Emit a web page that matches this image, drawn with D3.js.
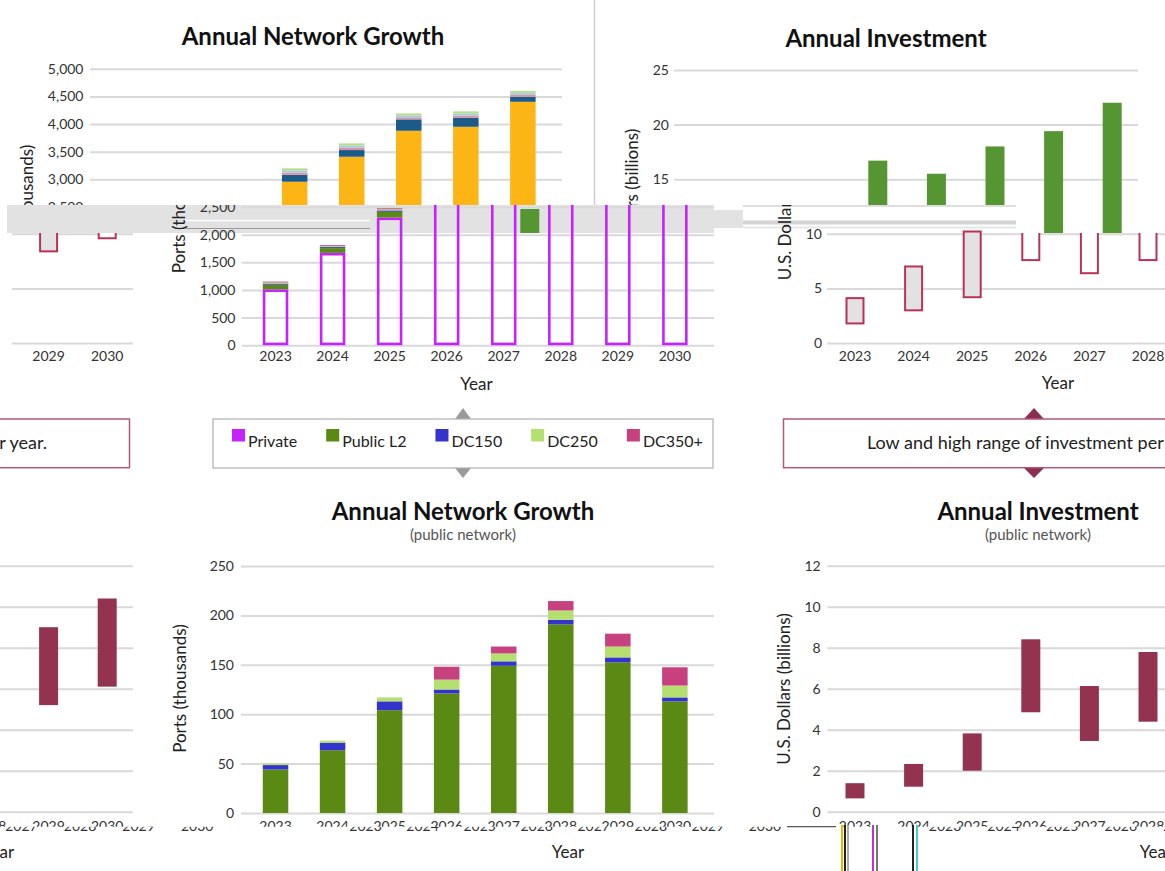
<!DOCTYPE html>
<html><head><meta charset="utf-8">
<script src="https://cdn.jsdelivr.net/npm/d3@7"></script>
<style>
body{margin:0;background:#fff;}
svg{display:block;font-family:Lato,'Open Sans',sans-serif;}
</style></head><body>
<svg id="c" width="1165" height="871"></svg>
<script>
// ---------------- DATA ----------------
const years = [2023, 2024, 2025, 2026, 2027, 2028, 2029, 2030];
// Total network growth (ports, thousands)
const totPrivate  = [1010, 1670, 2310, 2957, 3409, 3879, 3951, 4403];
const totPublicL2 = [85, 85, 105, 126, 121, 206, 163, 91];
const totDC150    = [20, 20, 22, 40, 40, 36, 38, 36];
const totDC250    = [20, 20, 22, 38, 40, 36, 38, 36];
const totDC350    = [15, 15, 16, 38, 41, 36, 40, 36];
// Total annual investment range (US$ billions)
const invLow  = [1.7, 2.9, 4.1, 7.5, 6.3, 7.5, 8.3, 9.5];
const invHigh = [4.2, 7.1, 10.3, 16.7, 15.5, 18.0, 19.4, 22.0];
// Public network growth (ports, thousands)
const pubL2    = [44, 63.5, 104, 121, 149, 191, 152.5, 113];
const pubDC150 = [4.5, 7.7, 9, 4, 4.5, 4.5, 5, 4];
const pubDC250 = [1.5, 2, 4, 10, 8, 9.5, 11, 12];
const pubDC350 = [0, 0, 0, 13, 7, 9.5, 13, 18.5];
// Public annual investment range (US$ billions)
const pubInvLow  = [0.65, 1.22, 2.0, 4.85, 3.45, 4.39, 5.2, 6.1];
const pubInvHigh = [1.39, 2.33, 3.82, 8.41, 6.13, 7.79, 9.0, 10.4];
// Tick labels
const netTicks    = [0, 500, 1000, 1500, 2000, 2500, 3000, 3500, 4000, 4500, 5000];
const invTicks    = [0, 5, 10, 15, 20, 25];
const pubNetTicks = [0, 50, 100, 150, 200, 250];
const pubInvTicks = [0, 2, 4, 6, 8, 10, 12];
const legendLabels = ["Private", "Public L2", "DC150", "DC250", "DC350+"];
const annotationText = "Low and high range of investment per year.";

// ---------------- STYLES ----------------
const FONT = "Lato,'Open Sans',sans-serif";
const netKeys = ["private", "publicL2", "dc150", "dc250", "dc350"];
const paletteA = ["#c622ff", "#5b8a14", "#3434cc", "#b4e070", "#c8417f"];
const paletteB = ["#fdb515", "#1b5b8a", "#e0909e", "#a3cde2", "#b6dd8c"];
const hollowFill = ["#e2e2e2", "#e2e2e2", "#e2e2e2", "#fff", "#fff", "#fff", "#e2e2e2", "#fff"];

// ---------------- SCALES ----------------
const netX = d3.scaleBand().domain(years).range([247, 703.4]).paddingInner(0.553).paddingOuter(0.2765);
const invX = d3.scaleBand().domain(years).range([825.7, 1294.5]).paddingInner(0.676).paddingOuter(0.338);
const netY = d3.scaleLinear().domain([0, 5000]).range([345.2, 68.8]);
const invY = d3.scaleLinear().domain([0, 25]).range([343, 70]);
const pubNetY = d3.scaleLinear().domain([0, 250]).range([813, 566]);
const pubInvY = d3.scaleLinear().domain([0, 12]).range([811.7, 565.7]);

const svg = d3.select("#c");
const defs = svg.append("defs");
function clip(id, d) { defs.append("clipPath").attr("id", id).attr("clipPathUnits", "userSpaceOnUse").append("path").attr("d", d); }
clip("cTop", "M0,0H1165V233H1016V205H0Z");
clip("cLow", "M0,205H1016V233H1165V480H0Z");
clip("cLowWrap", "M12,233H1165V480H12Z");
clip("cBandG", "M515,209H545V233H515Z");
clip("cLabA", "M0,480H1165V826.7H0Z");
clip("cLabB", "M0,826.7H1165V871H0Z");

// ---------------- HELPERS ----------------
function text(g, x, y, str, o = {}) {
  return g.append("text").attr("x", x).attr("y", y).text(str)
    .attr("font-family", FONT)
    .attr("font-size", o.size || 14).attr("font-weight", o.weight || "normal")
    .attr("fill", o.fill || "#222").attr("text-anchor", o.anchor || "middle")
    .attr("dominant-baseline", "central");
}
function rotText(g, x, y, str, size) {
  return g.append("text").attr("transform", `translate(${x},${y}) rotate(-90)`)
    .attr("font-family", FONT).attr("font-size", size).attr("fill", "#222")
    .attr("text-anchor", "middle").attr("dominant-baseline", "central").text(str);
}
function yGrid(g, y, ticks, gx0, gx1, pad) {
  const ax = d3.axisLeft(y).tickValues(ticks).tickSize(-(gx1 - gx0)).tickPadding(pad).tickFormat(d3.format(","));
  const a = g.append("g").attr("transform", `translate(${gx0},0)`).call(ax);
  a.select(".domain").remove();
  a.selectAll("line").attr("stroke", "#d9d9d9").attr("stroke-width", 2);
  a.selectAll("text").attr("font-size", 14).attr("fill", "#333").attr("font-family", FONT);
}
function xLabels(g, x, yTop) {
  const ax = d3.axisBottom(x).tickSize(0).tickPadding(0);
  const a = g.append("g").attr("transform", `translate(0,${yTop})`).call(ax);
  a.select(".domain").remove();
  a.selectAll("text").attr("font-size", 14).attr("fill", "#333").attr("font-family", FONT);
}
function stackBars(g, rows, x, y, colors, hollowFirst) {
  const layers = d3.stack().keys(netKeys)(rows);
  layers.forEach((layer, li) => {
    const hollow = hollowFirst && li === 0;
    const sw = hollow ? 2.6 : 0;
    g.append("g").selectAll("rect").data(layer).join("rect")
      .attr("x", d => x(d.data.year) + sw / 2)
      .attr("width", x.bandwidth() - sw)
      .attr("y", d => y(d[1]) + sw / 2)
      .attr("height", d => Math.max(0, y(d[0]) - y(d[1]) - sw))
      .attr("fill", hollow ? "none" : colors[li])
      .attr("stroke", hollow ? colors[li] : "none")
      .attr("stroke-width", sw);
  });
}

// ---------------- CHARTS ----------------
function drawNetTotal(g, colors, hollowFirst) {
  text(g, 465, 35, "Annual Network Growth", {size: 24, weight: "bold", fill: "#111"});
  yGrid(g, netY, netTicks, 242, 714, 6.5);
  xLabels(g, netX, 351);
  rotText(g, 178, 209, "Ports (thousands)", 17);
  text(g, 476.5, 383, "Year", {size: 17});
  const rows = years.map((yr, i) => ({year: yr, private: totPrivate[i], publicL2: totPublicL2[i],
    dc150: totDC150[i], dc250: totDC250[i], dc350: totDC350[i]}));
  stackBars(g, rows, netX, netY, colors, hollowFirst);
}
function drawInvTotal(g, filled) {
  text(g, 1039, 37, "Annual Investment", {size: 24, weight: "bold", fill: "#111"});
  yGrid(g, invY, invTicks, 827, 1291, 5);
  xLabels(g, invX, 351);
  rotText(g, 784, 204.5, "U.S. Dollars (billions)", 17);
  text(g, 1058, 382, "Year", {size: 17});
  const rows = years.map((yr, i) => ({year: yr, low: invLow[i], high: invHigh[i], i}));
  const sw = filled ? 0 : 2;
  g.append("g").selectAll("rect").data(rows).join("rect")
    .attr("x", d => invX(d.year) + sw / 2).attr("width", invX.bandwidth() - sw)
    .attr("y", d => invY(d.high) + sw / 2)
    .attr("height", d => invY(d.low) - invY(d.high) - sw)
    .attr("fill", d => filled ? "#559632" : hollowFill[d.i])
    .attr("stroke", filled ? "none" : "#b83358").attr("stroke-width", sw);
}
function drawPubNet(g) {
  text(g, 463, 510.7, "Annual Network Growth", {size: 24, weight: "bold", fill: "#111"});
  text(g, 463, 534, "(public network)", {size: 15, fill: "#555"});
  yGrid(g, pubNetY, pubNetTicks, 241, 714, 7);
  rotText(g, 179, 688.5, "Ports (thousands)", 17);
  text(g, 568, 851.7, "Year", {size: 17});
  const rows = years.map((yr, i) => ({year: yr, private: 0, publicL2: pubL2[i],
    dc150: pubDC150[i], dc250: pubDC250[i], dc350: pubDC350[i]}));
  stackBars(g, rows, netX, pubNetY, paletteA, false);
}
function drawPubInv(g) {
  text(g, 1038, 510.7, "Annual Investment", {size: 24, weight: "bold", fill: "#111"});
  text(g, 1038, 534, "(public network)", {size: 15, fill: "#555"});
  yGrid(g, pubInvY, pubInvTicks, 827.4, 1291, 6.7);
  rotText(g, 783.5, 689, "U.S. Dollars (billions)", 17);
  text(g, 1156, 851.7, "Year", {size: 17});
  const rows = years.map((yr, i) => ({year: yr, low: pubInvLow[i], high: pubInvHigh[i]}));
  g.append("g").selectAll("rect").data(rows).join("rect")
    .attr("x", d => invX(d.year)).attr("width", invX.bandwidth())
    .attr("y", d => pubInvY(d.high)).attr("height", d => pubInvY(d.low) - pubInvY(d.high))
    .attr("fill", "#943350");
}

// ---------------- TOP ROW (shifted upper slice) ----------------
const gTop = svg.append("g").attr("clip-path", "url(#cTop)");
drawNetTotal(gTop.append("g").attr("transform", "translate(-152,0)"), paletteB, false);
drawInvTotal(gTop.append("g").attr("transform", "translate(-153,0)"), true);
gTop.append("line").attr("x1", 594.5).attr("x2", 594.5).attr("y1", 0).attr("y2", 205)
  .attr("stroke", "#cfcfcf").attr("stroke-width", 1.5);

// glitch band
const band = svg.append("g");
band.append("rect").attr("x", 7).attr("y", 205).attr("width", 707).attr("height", 28).attr("fill", "#e2e2e2");
band.append("rect").attr("x", 714).attr("y", 210).attr("width", 29).attr("height", 18).attr("fill", "#e2e2e2");
band.append("line").attr("x1", 185).attr("x2", 370).attr("y1", 220.5).attr("y2", 220.5).attr("stroke", "#fff").attr("stroke-width", 1.5);
band.append("line").attr("x1", 185).attr("x2", 370).attr("y1", 228.5).attr("y2", 228.5).attr("stroke", "#9a9a9a").attr("stroke-width", 1.2);
band.append("line").attr("x1", 743).attr("x2", 1016).attr("y1", 206).attr("y2", 206).attr("stroke", "#dedede").attr("stroke-width", 2);
band.append("line").attr("x1", 743).attr("x2", 1016).attr("y1", 222.5).attr("y2", 222.5).attr("stroke", "#d4d4d4").attr("stroke-width", 4);
band.append("line").attr("x1", 743).attr("x2", 1016).attr("y1", 227.5).attr("y2", 227.5).attr("stroke", "#e6e6e6").attr("stroke-width", 2);
const gBandG = svg.append("g").attr("clip-path", "url(#cBandG)");
drawInvTotal(gBandG.append("g").attr("transform", "translate(-501,0)"), true);

// ---------------- TOP ROW (lower slice) ----------------
const gLow = svg.append("g").attr("clip-path", "url(#cLow)");
drawNetTotal(gLow.append("g"), paletteA, true);
drawInvTotal(gLow.append("g"), false);
const gLowWrap = svg.append("g").attr("clip-path", "url(#cLowWrap)");
drawInvTotal(gLowWrap.append("g").attr("transform", "translate(-1158,0)"), false);

// ---------------- MIDDLE ROW ----------------
// Legend
const leg = svg.append("g");
leg.append("path").attr("d", "M455,419L463,408L471,419Z").attr("fill", "#9a9a9a");
leg.append("path").attr("d", "M455,468L463,478L471,468Z").attr("fill", "#9a9a9a");
leg.append("rect").attr("x", 213).attr("y", 419).attr("width", 500).attr("height", 49)
  .attr("fill", "#fff").attr("stroke", "#b0b0b0").attr("stroke-width", 1.2);
let lx = 232;
legendLabels.forEach((lab, i) => {
  leg.append("rect").attr("x", lx).attr("y", 429).attr("width", 13).attr("height", 12.5).attr("fill", paletteA[i]);
  const t = text(leg, lx + 16, 440, lab, {size: 16, anchor: "start", fill: "#222"});
  lx = lx + 16 + t.node().getComputedTextLength() + 29;
});
// Annotation box (and its wrapped copy)
function drawAnnotation(g) {
  g.append("path").attr("d", "M1024,419L1034,408L1044,419Z").attr("fill", "#8c2d52");
  g.append("path").attr("d", "M1024,468L1034,478L1044,468Z").attr("fill", "#8c2d52");
  g.append("rect").attr("x", 783.5).attr("y", 419).attr("width", 504).attr("height", 48.7)
    .attr("fill", "#fff").attr("stroke", "#b5577a").attr("stroke-width", 1.5);
  text(g, 1036, 442, annotationText, {size: 18, fill: "#222"});
}
drawAnnotation(svg.append("g"));
drawAnnotation(svg.append("g").attr("transform", "translate(-1158,0)"));

// ---------------- BOTTOM ROW ----------------
drawPubNet(svg.append("g"));
drawPubInv(svg.append("g"));
drawPubInv(svg.append("g").attr("transform", "translate(-1158,0)"));
// x tick labels: upper halves in place, lower halves shifted
const gLabA = svg.append("g").attr("clip-path", "url(#cLabA)");
xLabels(gLabA, netX, 821);
xLabels(gLabA, invX, 821);
xLabels(gLabA.append("g").attr("transform", "translate(-1158,0)"), invX, 821);
const gLabB = svg.append("g").attr("clip-path", "url(#cLabB)");
[90, -1068].forEach(dx => {
  const gg = gLabB.append("g").attr("transform", `translate(${dx},0)`);
  xLabels(gg, netX, 821);
  xLabels(gg, invX, 821);
});
// glitch strokes under the lower-right labels
const gl = svg.append("g");
gl.append("line").attr("x1", 787).attr("x2", 836).attr("y1", 826.7).attr("y2", 826.7).attr("stroke", "#555").attr("stroke-width", 1.2);
[[842, "#d8c000"], [845, "#222"], [848, "#aaa"], [873, "#b23cc8"], [877, "#777"], [913, "#222"], [917, "#44d0c0"]]
  .forEach(([x, c]) => gl.append("line").attr("x1", x).attr("x2", x).attr("y1", 825).attr("y2", 871)
    .attr("stroke", c).attr("stroke-width", 2));
</script>
</body></html>
